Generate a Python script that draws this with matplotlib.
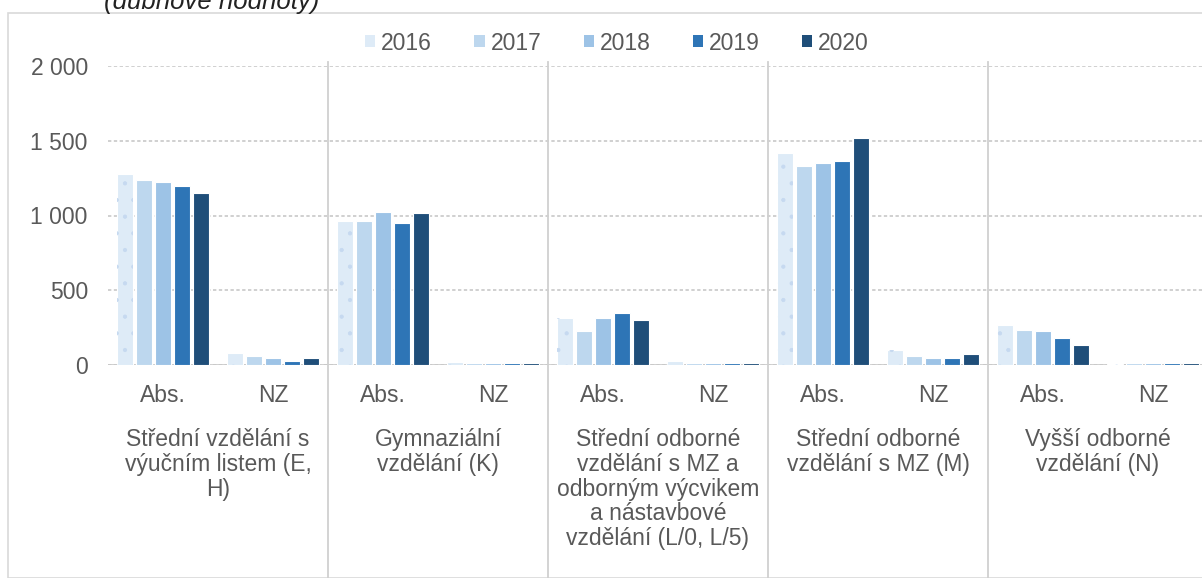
import numpy as np
import matplotlib.pyplot as plt
import matplotlib.transforms as mtrans
from matplotlib.patches import Patch, Rectangle
from matplotlib.lines import Line2D

plt.rcParams['font.family'] = ['Liberation Sans', 'DejaVu Sans']
plt.rcParams['hatch.linewidth'] = 0.6

years = ['2016', '2017', '2018', '2019', '2020']
colors = ['#deebf7', '#bdd7ee', '#9dc3e6', '#2e75b6', '#1f4e79']
sub_labels = ['Abs.', 'NZ']
groups = ['Střední vzdělání s\nvýučním listem (E,\nH)',
          'Gymnaziální\nvzdělání (K)',
          'Střední odborné\nvzdělání s MZ a\nodborným výcvikem\na nástavbové\nvzdělání (L/0, L/5)',
          'Střední odborné\nvzdělání s MZ (M)',
          'Vyšší odborné\nvzdělání (N)']

# values per year, order: group1 Abs, group1 NZ, group2 Abs, ...
v2016 = [1275, 81, 960, 22, 313, 26, 1417, 101, 270, 7]
v2017 = [1238, 57, 960, 13, 225, 13, 1329, 57, 236, 13]
v2018 = [1227, 46, 1026, 13, 313, 13, 1351, 46, 225, 13]
v2019 = [1197, 24, 949, 13, 349, 13, 1362, 46, 181, 13]
v2020 = [1150, 46, 1015, 13, 302, 13, 1519, 71, 137, 13]
series = [v2016, v2017, v2018, v2019, v2020]

W, H = 1202, 578
fig = plt.figure(figsize=(W / 100, H / 100), dpi=100)

def fx(px):
    return px / W

def fy(py):
    return 1 - py / H

txt = '#595959'
fs = 16.5

# chart border
fig.patches.append(Rectangle((fx(8), 0), 1.2, fy(13), transform=fig.transFigure,
                             fill=False, edgecolor='#d9d9d9', linewidth=1.2))

ax = fig.add_axes([fx(108), fy(365), 1100 / W, 299 / H])
x = np.arange(len(v2016))
slot = 0.173
for i, vals in enumerate(series):
    pos = x + (i - 2) * slot
    ax.bar(pos, vals, width=slot * 0.87, color=colors[i], edgecolor='white',
           linewidth=0.8, zorder=3)
    if i == 0:
        ax.bar(pos, vals, width=slot * 0.8, color='none', edgecolor='#c6d9f0',
               hatch='.', linewidth=0, zorder=4)

ax.set_xlim(-0.5, 9.5)
ax.set_ylim(0, 2000)
ax.set_yticks([0, 500, 1000, 1500, 2000])
ax.set_yticklabels(['0', '500', '1 000', '1 500', '2 000'])
ax.tick_params(axis='y', length=0, pad=14.5, labelsize=fs, labelcolor=txt)
ax.set_xticks([])
for s in ax.spines.values():
    s.set_visible(False)
ax.grid(axis='y', color='#c8c8c8', linestyle=(0, (2, 1.5)), linewidth=1.2, zorder=0)
ax.axhline(0, color='#c8c8c8', linewidth=1.2, zorder=2)

blend = mtrans.blended_transform_factory(ax.transData, fig.transFigure)

# category labels
for k in range(len(v2016)):
    ax.text(k, fy(395), sub_labels[k % 2], transform=blend,
            ha='center', va='center', fontsize=fs, color=txt)

for g, name in enumerate(groups):
    ax.text(2 * g + 0.5, fy(428), name, transform=blend, ha='center', va='top',
            fontsize=fs, color=txt, linespacing=1.1, multialignment='center')

# group separators
for g in range(1, len(groups)):
    fig.add_artist(Line2D([fx(108 + 220 * g)] * 2, [fy(62), 0], transform=fig.transFigure,
                          color='#d0d0d0', linewidth=1.3))

# legend
handles = [Patch(facecolor=c, edgecolor='none') for c in colors]
fig.legend(handles, years, loc='center', bbox_to_anchor=(fx(617), fy(43)), ncol=5,
           frameon=False, fontsize=fs, handlelength=0.45, handleheight=0.45,
           handletextpad=0.25, columnspacing=1.85, labelcolor=txt)

fig.text(fx(212), fy(9), '(dubnové hodnoty)', ha='center', va='baseline',
         fontsize=18.5, style='italic', color='#222222')

fig.savefig('out.png', dpi=100)
